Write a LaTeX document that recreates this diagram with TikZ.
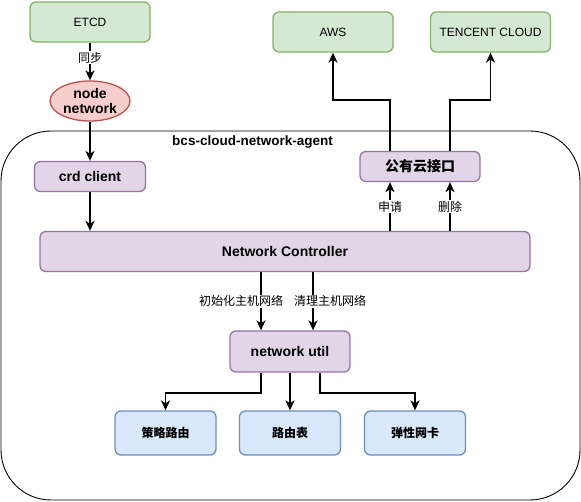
\documentclass[tikz,border=0pt]{standalone}
\usepackage{fontspec}
\setmainfont{Liberation Sans}
\newfontfamily\cjk{Noto Sans CJK SC}
\usetikzlibrary{arrows.meta,shapes.geometric}
\definecolor{gfill}{HTML}{D5E8D4}\definecolor{gline}{HTML}{82B366}
\definecolor{rfill}{HTML}{F8CECC}\definecolor{rline}{HTML}{B85450}
\definecolor{pfill}{HTML}{E1D5E7}\definecolor{pline}{HTML}{9673A6}
\definecolor{bfill}{HTML}{DAE8FC}\definecolor{bline}{HTML}{6C8EBF}
\begin{document}
\begin{tikzpicture}[x=1pt,y=-1pt,
  base/.style={rounded corners=6pt, line width=1.3pt, inner sep=0pt, align=center},
  gbox/.style={base, draw=gline, fill=gfill, font=\fontsize{12}{14}\selectfont},
  pbox/.style={base, draw=pline, fill=pfill, font=\fontsize{14}{16}\selectfont\bfseries},
  pcbox/.style={base, draw=pline, fill=pfill, font=\fontsize{14}{16}\selectfont\cjk\bfseries},
  bbox/.style={base, draw=bline, fill=bfill, font=\fontsize{12}{14}\selectfont\cjk\bfseries},
  arr/.style={line width=1.8pt, -{Stealth[length=10pt,width=9pt,inset=3pt]}},
  elab/.style={fill=white, inner sep=1pt, font=\fontsize{12}{13}\selectfont\cjk}]
\useasboundingbox (0,0) rectangle (581,502);
% container
\draw[line width=0.9pt, rounded corners=50pt] (1,131) rectangle (580,500);
\node[font=\fontsize{13.5}{15}\selectfont\bfseries] (title) at (252.5,142) {bcs-cloud-network-agent};
% nodes
\node[gbox, minimum width=120pt, minimum height=40pt] (etcd) at (90,22) {ETCD};
\node[ellipse, draw=rline, fill=rfill, line width=1.3pt, minimum width=80pt, minimum height=40pt, inner sep=0pt, align=center, font=\fontsize{14}{15}\selectfont\bfseries] (nn) at (90,101) {node\\network};
\node[gbox, minimum width=120pt, minimum height=40pt] (aws) at (333,32) {AWS};
\node[gbox, minimum width=120pt, minimum height=40pt] (tc) at (490.5,32) {TENCENT CLOUD};
\node[pbox, minimum width=111pt, minimum height=30pt] (crd) at (90,176.5) {crd client};
\node[pcbox, minimum width=120pt, minimum height=30pt] (cloud) at (420,166.5) {公有云接口};
\node[pbox, minimum width=490pt, minimum height=40pt] (nc) at (285,251.5) {Network Controller};
\node[pbox, minimum width=120pt, minimum height=41pt] (util) at (290,351.5) {network util};
\node[bbox, minimum width=101pt, minimum height=44pt] (b1) at (165.5,433) {策略路由};
\node[bbox, minimum width=101pt, minimum height=44pt] (b2) at (290,433) {路由表};
\node[bbox, minimum width=101pt, minimum height=44pt] (b3) at (415,433) {弹性网卡};
% edges
\draw[arr] (etcd) -- node[elab, pos=0.4]{同步} (nn);
\draw[arr] (nn) -- (crd);
\draw[arr] (crd.south) -- (crd.south |- nc.north);
\draw[arr] ([xshift=-30pt]cloud.south |- nc.north) -- node[elab, pos=0.5]{申请} ([xshift=-30pt]cloud.south);
\draw[arr] ([xshift=30pt]cloud.south |- nc.north) -- node[elab, pos=0.5]{删除} ([xshift=30pt]cloud.south);
\draw[arr] ([xshift=-30pt]cloud.north) -- ++(0,-51) -| (aws.south);
\draw[arr] ([xshift=30pt]cloud.north) -- ++(0,-51) -| (tc.south);
\draw[arr] ([xshift=-29pt]util.north |- nc.south) -- node[elab, pos=0.5, xshift=-20pt]{初始化主机网络} ([xshift=-29pt]util.north);
\draw[arr] ([xshift=23pt]util.north |- nc.south) -- node[elab, pos=0.5, xshift=17pt]{清理主机网络} ([xshift=23pt]util.north);
\draw[arr] ([xshift=-29pt]util.south) -- ++(0,20) -| (b1.north);
\draw[arr] (util.south) -- (b2.north);
\draw[arr] ([xshift=30pt]util.south) -- ++(0,20) -| (b3.north);
\end{tikzpicture}
\end{document}
